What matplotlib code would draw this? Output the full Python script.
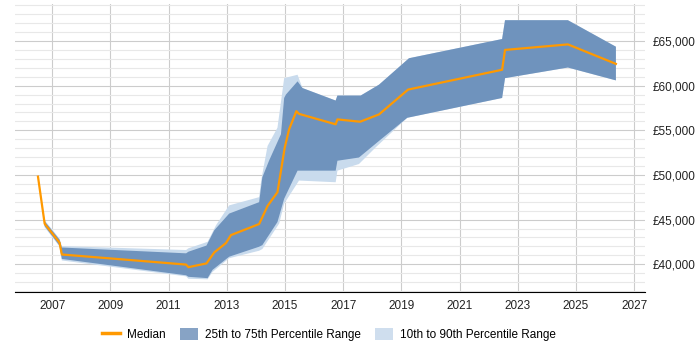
import matplotlib.pyplot as plt
from matplotlib.ticker import MultipleLocator, FuncFormatter
from matplotlib.patches import Patch
from matplotlib.lines import Line2D
import numpy as np

plt.rcParams['font.family'] = ['Liberation Sans', 'DejaVu Sans']

# median salary (year as decimal, value in £)
median_x = [2006.51, 2006.74, 2007.25, 2007.33, 2011.60, 2011.68, 2012.30, 2012.57,
            2012.97, 2013.14, 2014.11, 2014.40, 2014.74, 2014.99, 2015.14, 2015.39,
            2015.48, 2016.74, 2016.80, 2017.58, 2018.23, 2019.23, 2022.46, 2022.56,
            2024.72, 2026.37]
median_y = [49810, 44530, 42420, 41090, 39960, 39670, 40090, 41330,
            42370, 43260, 44500, 46530, 48070, 53070, 55110, 57140,
            56840, 55670, 56220, 55960, 56780, 59560, 61780, 64000,
            64620, 62440]

# 75th percentile
p75_x = [2006.51, 2006.74, 2007.25, 2007.33, 2011.60, 2011.68, 2012.30, 2012.57, 2013.08,
         2014.11, 2014.22, 2014.45, 2014.86, 2014.97, 2015.03, 2015.43, 2015.60,
         2016.74, 2016.80, 2017.60, 2018.23, 2019.26, 2022.46, 2022.56, 2024.72, 2026.37]
p75_y = [49810, 44810, 42760, 41870, 41220, 41400, 42090, 43810, 45670,
         46950, 49730, 51590, 54560, 58620, 59000, 60480, 59730,
         58330, 58890, 58890, 60110, 63070, 65220, 67330, 67330, 64360]

# 25th percentile
p25_x = [2006.51, 2006.74, 2007.25, 2007.33, 2011.60, 2011.68, 2012.34, 2012.51, 2013.08,
         2014.11, 2014.22, 2014.74, 2014.97, 2015.43, 2016.74, 2016.80, 2017.54,
         2018.23, 2019.20, 2022.46, 2022.56, 2024.72, 2026.37]
p25_y = [49810, 44260, 42090, 40590, 38760, 38590, 38440, 39370, 40840,
         41960, 42140, 44730, 47330, 50480, 50480, 51590, 51950,
         53810, 56400, 58620, 60840, 62030, 60590]

# 90th percentile
p90_x = [2006.51, 2006.74, 2007.25, 2007.33, 2011.60, 2011.68, 2012.34, 2012.63, 2013.08,
         2014.11, 2014.18, 2014.40, 2014.74, 2014.91, 2014.97, 2015.43, 2015.60,
         2016.74, 2016.80, 2017.60, 2018.23, 2019.26, 2022.46, 2022.56, 2024.72, 2026.37]
p90_y = [49810, 44920, 42870, 42030, 41590, 41780, 42510, 44370, 46590,
         47510, 49370, 53250, 55290, 59370, 60840, 61220, 59730,
         58330, 58890, 58890, 60110, 63070, 65220, 67330, 67330, 64360]

# 10th percentile
p10_x = [2006.51, 2006.74, 2007.25, 2007.33, 2011.60, 2011.68, 2012.34, 2012.51, 2013.08,
         2014.11, 2014.22, 2014.80, 2014.97, 2015.48, 2016.74, 2016.80, 2017.54,
         2018.11, 2019.20, 2022.46, 2022.56, 2024.72, 2026.37]
p10_y = [49810, 44140, 41980, 40420, 38640, 38370, 38310, 39140, 40670,
         41510, 41700, 44560, 46780, 49370, 49180, 50480, 51220,
         53070, 56400, 58620, 60840, 62030, 60590]

year_ticks = list(range(2007, 2028, 2))

dark = '#6f93bd'
light = '#c9dbed'
orange = '#ff9900'

fig = plt.figure(figsize=(7, 3.5), dpi=100)
ax = fig.add_axes([0.021, 0.166, 0.900, 0.824])

ax.fill(np.concatenate([p90_x, p10_x[::-1]]), np.concatenate([p90_y, p10_y[::-1]]),
        color=light, lw=0, zorder=2)
ax.fill(np.concatenate([p75_x, p25_x[::-1]]), np.concatenate([p75_y, p25_y[::-1]]),
        color=dark, lw=0, zorder=3)
ax.plot(median_x, median_y, color=orange, lw=1.6, zorder=4)

ax.set_xlim(2005.71, 2027.36)
ax.set_ylim(36900, 69200)
ax.set_xticks(year_ticks)
ax.set_xticklabels([str(y) for y in year_ticks])
ax.yaxis.set_major_locator(MultipleLocator(5000))
ax.yaxis.set_minor_locator(MultipleLocator(1000))
ax.yaxis.set_major_formatter(FuncFormatter(lambda v, p: f'£{int(v):,}'))
ax.yaxis.tick_right()

ax.grid(True, which='major', color='#cccccc', lw=0.8, zorder=0)
ax.grid(True, which='minor', axis='y', color='#e8e8e8', lw=0.8, zorder=0)
ax.set_axisbelow(True)

for s in ['top', 'right', 'left']:
    ax.spines[s].set_visible(False)
ax.spines['bottom'].set_color('black')
ax.tick_params(axis='both', which='both', length=0, labelsize=8.5, colors='#222222')
ax.tick_params(axis='x', pad=6)
ax.tick_params(axis='y', pad=6)

handles = [Line2D([0], [0], color=orange, lw=2.5),
           Patch(facecolor='#87a3c5', edgecolor='none'),
           Patch(facecolor='#cfdeee', edgecolor='none')]
labels = ['Median', '25th to 75th Percentile Range', '10th to 90th Percentile Range']
fig.legend(handles, labels, loc='center', bbox_to_anchor=(0.47, 0.045), ncol=3,
           frameon=False, fontsize=8.5, handlelength=1.5, handleheight=1.2,
           columnspacing=1.2, handletextpad=0.6)

fig.savefig('out.png', dpi=100)
